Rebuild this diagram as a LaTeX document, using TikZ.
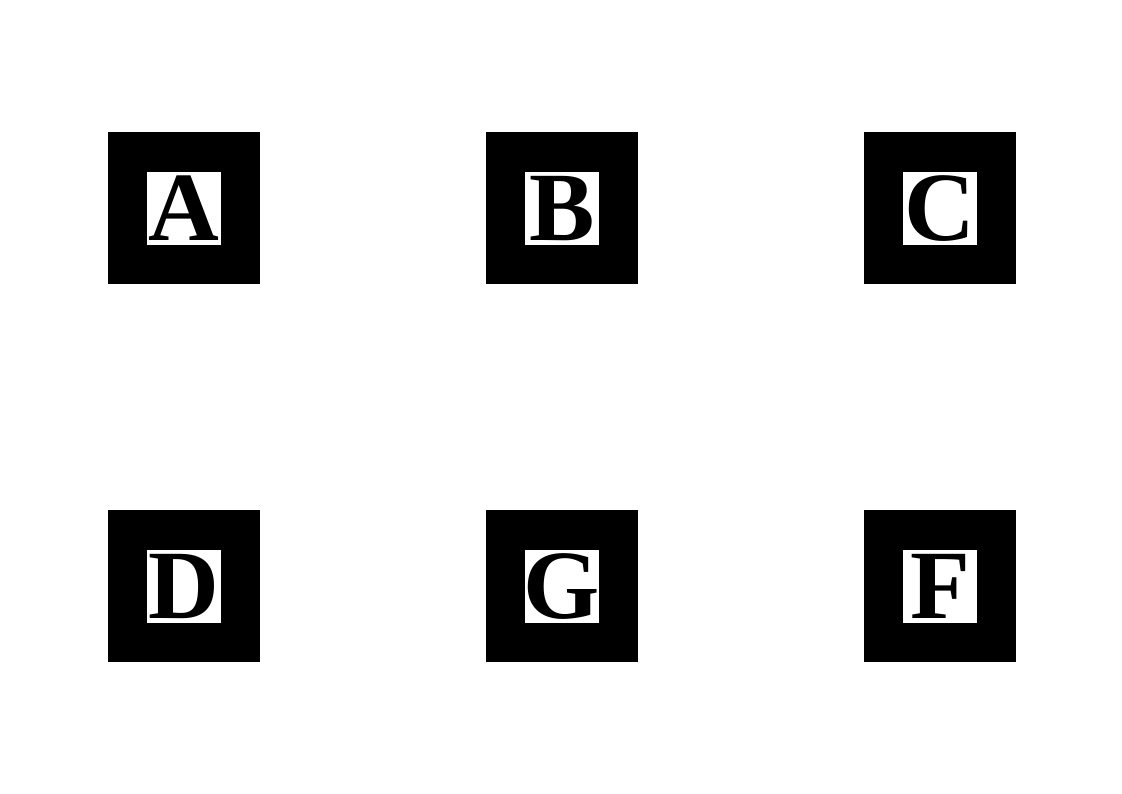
\documentclass[tikz,border=0pt]{standalone}
\usepackage{fontspec}
\setmainfont{Liberation Serif}
\begin{document}
\begin{tikzpicture}[x=1pt,y=-1pt,
  outerbox/.style={fill=black,draw=none,minimum width=152pt,minimum height=152pt,inner sep=0pt,outer sep=0pt},
  innerbox/.style={fill=white,draw=none,minimum width=74pt,minimum height=73pt,inner sep=0pt},
  letter/.style={font=\fontsize{98}{98}\selectfont\bfseries,inner sep=0pt,anchor=base}]
\useasboundingbox (0,0) rectangle (1122,793);
\foreach \name/\lab/\cx/\cy in {a/A/184/208, b/B/562/208, c/C/940/208, d/D/184/586, g/G/562/586, f/F/940/586}{
  \node[outerbox] (\name) at (\cx,\cy) {};
  \node[innerbox] (\name-in) at (\cx,\cy+0.5) {};
  \node[letter] (\name-t) at (\cx,\cy+32.5) {\lab};
}
\end{tikzpicture}
\end{document}
